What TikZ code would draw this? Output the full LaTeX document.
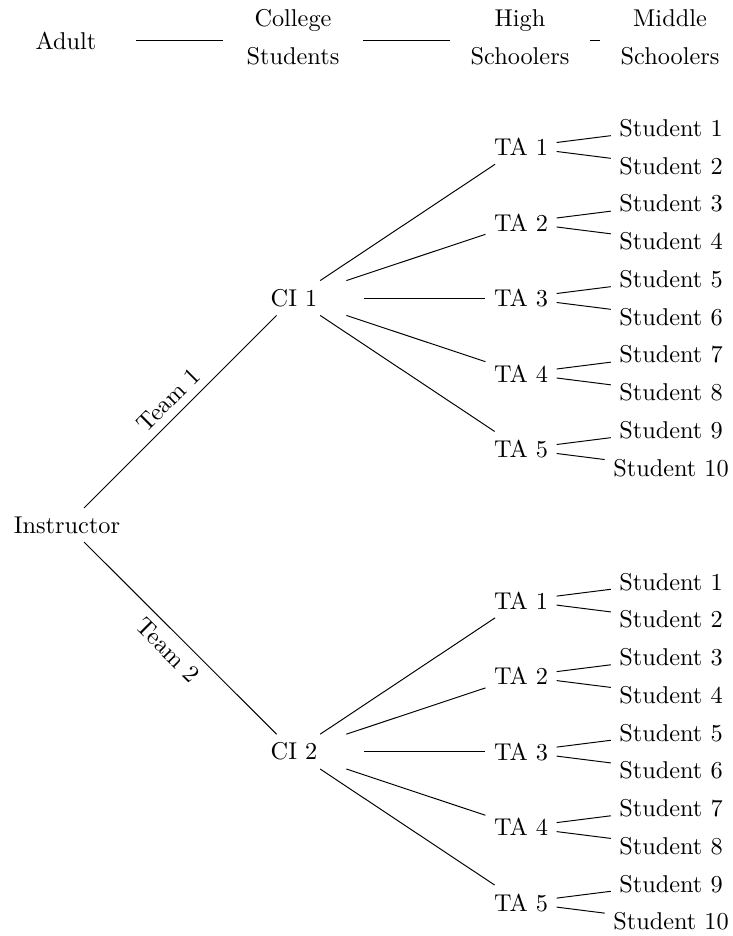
\documentclass[tikz,border=0pt]{standalone}
\begin{document}
\begin{tikzpicture}[x=0.4115pt,y=-0.4115pt,
  every node/.style={inner sep=0.3333em},
  hdr/.style={align=center, minimum width=57.6pt},
  ci/.style={minimum width=57.6pt},
  lbl/.style={midway, sloped, inner sep=0.3333em}
]
\useasboundingbox (0,0) rectangle (732,936);
% header
\node[hdr] (adult) at (66,40.5) {Adult};
\node[hdr] (college) at (293,37.5) {College\\[3.6pt]Students};
\node[hdr] (high) at (520,37.5) {High\\[3.6pt]Schoolers};
\node[hdr] (middle) at (670,37.5) {Middle\\[3.6pt]Schoolers};
\draw (adult.east) -- (adult.east -| college.west);
\draw (college.east |- adult.east) -- (adult.east -| high.west);
\draw (high.east |- adult.east) -- (adult.east -| middle.west);
% tree
\node (instr) at (67,525) {Instructor};
\node[ci] (ci1) at (294,298) {CI 1};
\node[ci] (ci2) at (294,751.6) {CI 2};
\draw (instr) -- node[lbl, above] {Team 1} (ci1);
\draw (instr) -- node[lbl, below] {Team 2} (ci2);
\foreach \c/\cy in {1/298, 2/751.6} {
  \foreach \t in {1,...,5} {
    \pgfmathsetmacro\ty{\cy+(\t-3)*75.5}
    \pgfmathtruncatemacro\sa{2*\t-1}
    \pgfmathtruncatemacro\sb{2*\t}
    \node (ta\c-\t) at (521,\ty) {TA \t};
    \draw (ci\c) -- (ta\c-\t);
    \node (st\c-\sa) at (671,\ty-18.9) {Student \sa};
    \node (st\c-\sb) at (671,\ty+18.9) {Student \sb};
    \draw (ta\c-\t) -- (st\c-\sa);
    \draw (ta\c-\t) -- (st\c-\sb);
  }
}
\end{tikzpicture}
\end{document}
